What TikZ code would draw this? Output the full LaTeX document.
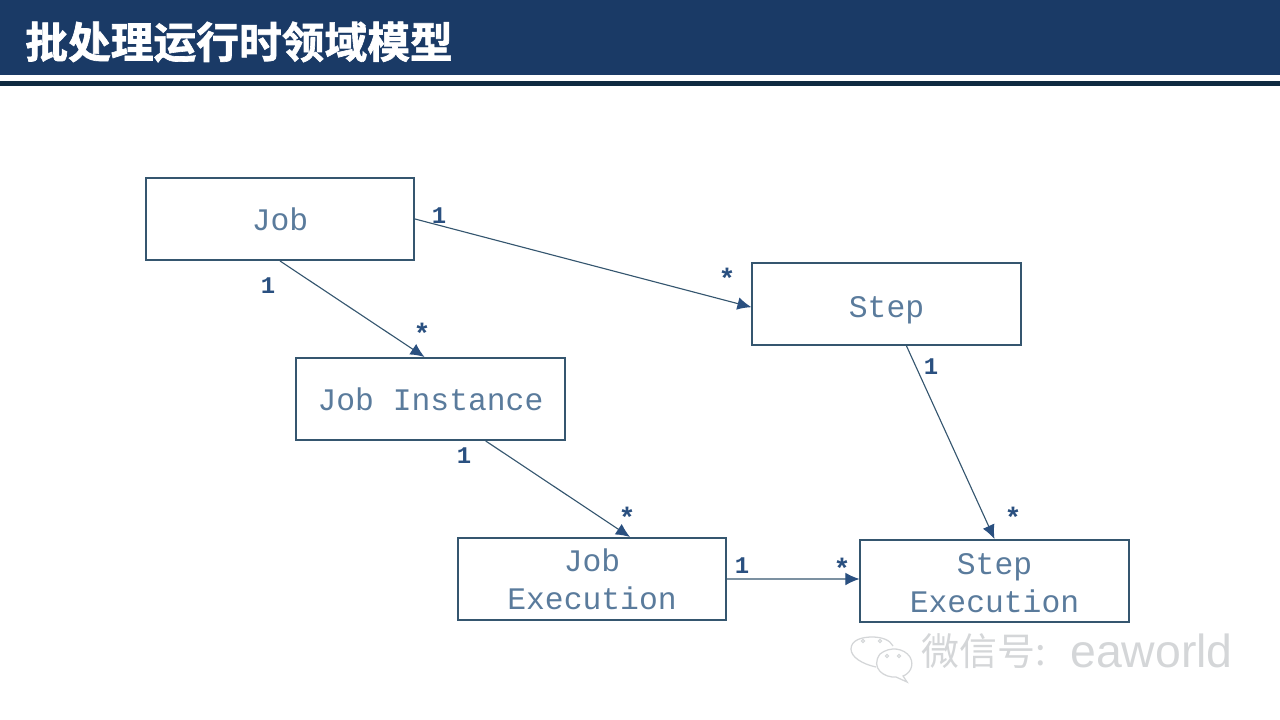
\documentclass[tikz,border=0pt]{standalone}
\usepackage{fontspec}
\setmonofont{Liberation Mono}
\setsansfont{Liberation Sans}
\newfontfamily\cjk{Noto Sans CJK SC}[BoldFont={Noto Sans CJK SC Bold},BoldFeatures={FakeBold=1.5}]
\usetikzlibrary{arrows.meta,calc,positioning}
\tikzset{>=latex}
\definecolor{navy}{HTML}{1A3A66}
\definecolor{navydark}{HTML}{0F2A40}
\definecolor{boxline}{HTML}{35566F}
\definecolor{boxtext}{HTML}{5A7B9C}
\definecolor{marktext}{HTML}{2A5080}
\definecolor{markgray}{HTML}{D4D6D8}
\newcommand{\lowered}[1]{\raisebox{-1.4pt}[\height][\depth]{#1}}
\tikzset{
	entity/.style={draw=boxline, line width=1.4pt, minimum width=6.7cm, minimum height=2.05cm, align=center, inner sep=0pt, text=boxtext, font=\ttfamily\fontsize{22.3}{27}\selectfont},
	link/.style={-{Latex[length=10pt,width=9pt,color=marktext]}, boxline, line width=0.8pt},
	one/.style={text=marktext, font=\ttfamily\bfseries\fontsize{17}{17}\selectfont, inner sep=0pt},
	many/.style={text=marktext, font=\ttfamily\bfseries\fontsize{20}{20}\selectfont, inner sep=0pt}
}
\begin{document}
\begin{tikzpicture}[x=0.025cm,y=-0.025cm]
	\useasboundingbox (0,0) rectangle (1280,720);
	% header
	\fill[navy] (0,0) rectangle (1280,75);
	\fill[navydark] (0,81) rectangle (1280,86);
	\node[anchor=west, inner sep=0pt, text=white] (title) at (25,42) {\cjk\bfseries\fontsize{30.4}{31}\selectfont 批处理运行时领域模型};
	% boxes
	\node[entity] (job) at (280,219) {Job};
	\node[entity] (step) at (886.5,304) {\raisebox{-4.3pt}[\height][\depth]{Step}};
	\node[entity] (inst) at (430.5,399) {Job Instance};
	\node[entity] (jobexec) at (592,579) {Job\\Execution};
	\node[entity] (stepexec) at (994.5,581) {\lowered{Step}\\\lowered{Execution}};
	% links
	\draw[link] (job.east) -- ([yshift=-0.08cm]step.west);
	\draw[link] (job.south) -- ([xshift=-0.15cm]inst.north);
	\draw[link] ([xshift=1.38cm]inst.south) -- ([xshift=0.95cm]jobexec.north);
	\draw[link] ([xshift=0.5cm]step.south) -- (stepexec.north);
	\draw[link] (jobexec.east) -- ([yshift=0.05cm]stepexec.west);
	% multiplicities
	\node[one] (n1) at (439,216) {1};
	\node[one] (n2) at (268,286) {1};
	\node[one] (n3) at (464,456) {1};
	\node[one] (n4) at (931,367) {1};
	\node[one] (n5) at (742,566) {1};
	\node[many] (m1) at (727,278) {*};
	\node[many] (m2) at (422,333) {*};
	\node[many] (m3) at (627,517) {*};
	\node[many] (m4) at (1013,517) {*};
	\node[many] (m5) at (842,568) {*};
	% watermark
	\draw[markgray, line width=0.9pt] (876,667) .. controls (862,664) and (851,657) .. (851,649) .. controls (851,640) and (862,637) .. (872,637) .. controls (882,637) and (890,640) .. (893,646);
	\draw[markgray, line width=0.9pt] (880,654) .. controls (890,646) and (904,648) .. (910,657) .. controls (915,666) and (909,674) .. (903,676) -- (907,682) -- (896,677) .. controls (884,678) and (870,668) .. (880,654);
	\foreach \dotx/\doty in {863/641,880/641,887/656,899/656}
		\draw[markgray, line width=0.8pt] (\dotx,\doty) circle (0.04cm);
	\node[anchor=base west, inner sep=0pt, text=markgray] (wechat) at (921,665) {\cjk\fontsize{27}{27}\selectfont 微信号:};
	\node[anchor=base west, inner sep=0pt, text=markgray] (eaworld) at (1070,667) {\sffamily\fontsize{33}{33}\selectfont eaworld};
\end{tikzpicture}
\end{document}
